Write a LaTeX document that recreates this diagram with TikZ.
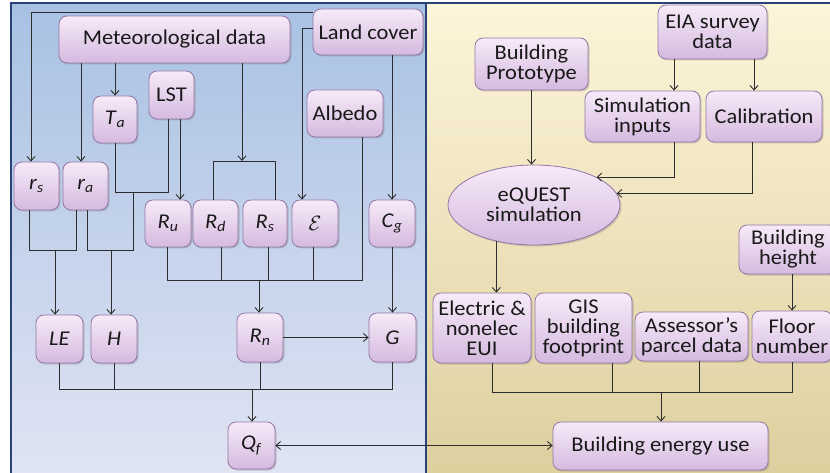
\documentclass[tikz,border=0pt]{standalone}
\usepackage{fontspec}
\setmainfont[FakeStretch=1.07]{Carlito}
\usetikzlibrary{arrows.meta,shadows,shapes.geometric}
\definecolor{lbtop}{RGB}{168,193,227}
\definecolor{lbbot}{RGB}{224,228,243}
\definecolor{rbtop}{RGB}{253,245,218}
\definecolor{rbbot}{RGB}{221,207,158}
\definecolor{boxtop}{RGB}{247,234,248}
\definecolor{boxbot}{RGB}{212,186,223}
\definecolor{boxline}{RGB}{148,118,166}
\definecolor{frame}{RGB}{38,66,118}
\definecolor{wire}{RGB}{45,45,45}
\definecolor{txt}{RGB}{25,25,25}
\newcommand{\sv}[2]{\textit{#1}\textsubscript{\textit{#2}}}
\begin{document}
\begin{tikzpicture}[x=1pt,y=-1pt,
  box/.style={rectangle, rounded corners=8pt, draw=boxline, line width=0.8pt,
    top color=boxtop, bottom color=boxbot, align=center, inner sep=1pt,
    text=txt, font=\fontsize{21}{20}\selectfont,
    drop shadow={shadow xshift=1.5pt, shadow yshift=-1.5pt, opacity=0.35}},
  oval/.style={ellipse, draw=boxline, line width=0.8pt,
    top color=boxtop, bottom color=boxbot, align=center, inner sep=0pt,
    text=txt, font=\fontsize{21}{20}\selectfont,
    drop shadow={shadow xshift=1.5pt, shadow yshift=-1.5pt, opacity=0.35}},
  wire/.style={draw=wire, line width=0.9pt},
  arr/.style={wire, -{Straight Barb[length=4.5pt,width=8pt]}},
  arrb/.style={wire, {Straight Barb[length=4.5pt,width=8pt]}-{Straight Barb[length=4.5pt,width=8pt]}}
]
\useasboundingbox (0,0) rectangle (830,473);
% backgrounds
\fill[white] (0,0) rectangle (830,473);
\shade[top color=lbtop, bottom color=lbbot] (11,3) rectangle (425,473);
\shade[top color=rbtop, bottom color=rbbot] (427,3) rectangle (830,473);
\draw[frame, line width=2pt] (11,473) -- (11,3) -- (830,3);
\draw[frame, line width=2pt] (426,3) -- (426,473);

% ---------- left nodes ----------
\node[box, minimum width=231, minimum height=47] (met) at (174.5,39.5) {Meteorological data};
\node[box, minimum width=110, minimum height=46] (land) at (368,32) {Land cover};
\node[box, minimum width=44, minimum height=47] (Ta) at (115,119.5) {\sv{T}{a}};
\node[box, minimum width=45, minimum height=48] (LST) at (171.5,95) {LST};
\node[box, minimum width=76, minimum height=47] (alb) at (345,113.5) {Albedo};
\node[box, minimum width=45, minimum height=48] (rs) at (36.5,186) {\sv{r}{s}};
\node[box, minimum width=45, minimum height=48] (ra) at (85.5,186) {\sv{r}{a}};
\node[box, minimum width=46, minimum height=47] (Ru) at (168,223.5) {\sv{R}{u}};
\node[box, minimum width=45, minimum height=47] (Rd) at (215.5,223.5) {\sv{R}{d}};
\node[box, minimum width=44, minimum height=47] (Rs) at (265,223.5) {\sv{R}{s}};
\node[box, minimum width=46, minimum height=47] (eps) at (315,223.5) {$\mathcal{E}$};
\node[box, minimum width=46, minimum height=47] (Cg) at (392,223.5) {\sv{C}{g}};
\node[box, minimum width=47, minimum height=48] (LE) at (59.5,339) {\textit{LE}};
\node[box, minimum width=46, minimum height=48] (H) at (114,339) {\textit{H}};
\node[box, minimum width=46, minimum height=49] (Rn) at (260,337.5) {\sv{R}{n}};
\node[box, minimum width=47, minimum height=49] (G) at (392.5,337.5) {\textit{G}};
\node[box, minimum width=47, minimum height=47] (Qf) at (251.5,445.5) {\sv{Q}{f}};

% ---------- right nodes ----------
\node[box, minimum width=113, minimum height=52] (proto) at (531.5,64) {Building\\Prototype};
\node[box, minimum width=109, minimum height=54] (eia) at (712.5,32) {EIA survey\\data};
\node[box, minimum width=115, minimum height=51] (sim) at (642.5,116.5) {Simulation\\inputs};
\node[box, minimum width=116, minimum height=51] (cal) at (764,116.5) {Calibration};
\node[oval, minimum width=172, minimum height=80] (eq) at (534,205) {eQUEST\\simulation};
\node[box, minimum width=98, minimum height=49] (hgt) at (788,249.5) {Building\\height};
\node[box, minimum width=98, minimum height=70] (elec) at (482,328) {Electric \&\\nonelec\\EUI};
\node[box, minimum width=97, minimum height=70] (gis) at (583.5,328) {GIS\\building\\footprint};
\node[box, minimum width=113, minimum height=49] (ass) at (691.5,336.5) {Assessor’s\\parcel data};
\node[box, minimum width=80, minimum height=51] (flr) at (792,336.5) {Floor\\number};
\node[box, minimum width=215, minimum height=48] (beu) at (660.5,446) {Building energy use};

% ---------- helper coordinates ----------
\coordinate (a1) at (31,12);
\coordinate (a2) at (302,28);
\coordinate (a3) at (81,0);
\coordinate (a4) at (242,161);
\coordinate (a5) at (213,161);
\coordinate (a6) at (275,161);
\coordinate (a7) at (180,0);
\coordinate (b1) at (168,192);
\coordinate (b2) at (133,192);
\coordinate (c1) at (29,250);
\coordinate (c2) at (76,250);
\coordinate (c3) at (55,250);
\coordinate (c4) at (87,250);
\coordinate (c5) at (133,250);
\coordinate (c6) at (111,250);
\coordinate (d1) at (167,280);
\coordinate (d2) at (221,280);
\coordinate (d3) at (268,280);
\coordinate (d4) at (313,280);
\coordinate (d5) at (362,280);
\coordinate (d0) at (259,280);
\coordinate (e0) at (252,389);
\coordinate (f1) at (674,0);
\coordinate (f2) at (754,0);
\coordinate (f3) at (752,0);
\coordinate (g1) at (492,392);
\coordinate (g2) at (612,392);
\coordinate (g3) at (699,392);
\coordinate (g4) at (792,392);
\coordinate (g0) at (661,392);

% ---------- left connectors ----------
\draw[arr] (land.west |- a1) -- (a1) -- (rs.north -| a1);
\draw[arr] (land.west |- a2) -- (a2) -- (eps.north -| a2);
\draw[arr] (land.south -| Cg) -- (Cg.north);
\draw[arr] (met.south -| a3) -- (ra.north -| a3);
\draw[arr] (met.south -| Ta) -- (Ta.north);
\draw[arr] (met.south -| a4) -- (a4);
\draw[wire] (Rd.north -| a5) -- (a5) -- (a6) -- (Rs.north -| a6);
\draw[arr] (LST.south -| a7) -- (Ru.north -| a7);
\draw[wire] (LST.south -| b1) -- (b1) -- (Ta.south |- b1) -- (Ta.south);
\draw[wire] (rs.south -| c1) -- (c1) -- (c2) -- (ra.south -| c2);
\draw[arr] (c3) -- (LE.north -| c3);
\draw[wire] (ra.south -| c4) -- (c4) -- (c5) -- (b2);
\draw[arr] (c6) -- (H.north -| c6);
\draw[wire] (Ru.south -| d1) -- (d1) -- (d5) -- (alb.south -| d5);
\draw[wire] (Rd.south -| d2) -- (d2);
\draw[wire] (Rs.south -| d3) -- (d3);
\draw[wire] (eps.south -| d4) -- (d4);
\draw[arr] (d0) -- (Rn.north -| d0);
\draw[arr] (Cg.south -| G) -- (G.north);
\draw[arr] (Rn.east) -- (G.west);
\draw[wire] (LE.south) -- (LE.south |- e0) -- (G.south |- e0) -- (G.south);
\draw[wire] (H.south) -- (H.south |- e0);
\draw[wire] (Rn.south) -- (Rn.south |- e0);
\draw[arr] (e0) -- (Qf.north -| e0);
\draw[arrb] (Qf.east) -- (beu.west |- Qf.east);

% ---------- right connectors ----------
\draw[arr] (eia.south -| f1) -- (sim.north -| f1);
\draw[arr] (eia.south -| f2) -- (cal.north -| f2);
\draw[arr] (proto.south) -- (eq.north -| proto.south);
\draw[arr] (sim.south -| f1) |- (eq.24.5);
\draw[arr] (cal.south -| f3) |- (eq.8.3);
\draw[arr] (eq.224.3) -- (elec.north -| eq.224.3);
\draw[arr] (hgt.south -| flr) -- (flr.north);
\draw[wire] (elec.south -| g1) -- (g1) -- (g4) -- (flr.south -| g4);
\draw[wire] (gis.south -| g2) -- (g2);
\draw[wire] (ass.south -| g3) -- (g3);
\draw[arr] (g0) -- (beu.north -| g0);
\end{tikzpicture}
\end{document}
